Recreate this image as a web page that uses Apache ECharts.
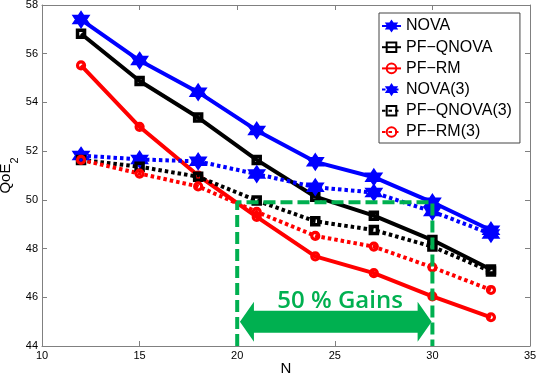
<!DOCTYPE html>
<html><head><meta charset="utf-8">
<script src="https://cdn.jsdelivr.net/npm/echarts@6/dist/echarts.min.js"></script>
<style>html,body{margin:0;padding:0;background:#fff}#c{width:536px;height:375px}</style>
</head><body><div id="c"></div>
<script>
// ---- data ----
const N = [12, 15, 18, 21, 24, 27, 30, 33];
const NOVA      = [57.40, 55.72, 54.42, 52.85, 51.56, 50.93, 49.90, 48.75];
const PF_QNOVA  = [56.82, 54.88, 53.38, 51.64, 50.13, 49.35, 48.35, 47.14];
const PF_RM     = [55.52, 53.00, 51.00, 49.30, 47.68, 46.99, 46.04, 45.18];
const NOVA3     = [51.82, 51.66, 51.58, 51.06, 50.52, 50.30, 49.52, 48.60];
const PF_QNOVA3 = [51.64, 51.36, 50.95, 49.97, 49.12, 48.76, 48.08, 47.06];
const PF_RM3    = [51.64, 51.08, 50.55, 49.51, 48.52, 48.08, 47.23, 46.30];
const seriesNames = ['NOVA', 'PF\u2212QNOVA', 'PF\u2212RM', 'NOVA(3)', 'PF\u2212QNOVA(3)', 'PF\u2212RM(3)'];
const xTicks = [10, 15, 20, 25, 30, 35];
const yTicks = [44, 46, 48, 50, 52, 54, 56, 58];
const gainBox = [[20, 44], [20, 49.9], [30, 49.9], [30, 44]];
const gainArrow = [[20.14, 29.96, 45.0]];
const gainLabel = '50 % Gains';
const gainLabelAt = [25.27, 45.85];

// ---- chart ----
const chart = echarts.init(document.getElementById('c'), null, {renderer: 'canvas'});
const hexagram = 'path://M0,-10 L2.887,-5 L8.66,-5 L5.774,0 L8.66,5 L2.887,5 L0,10 L-2.887,5 L-8.66,5 L-5.774,0 L-8.66,-5 L-2.887,-5 Z';
const BLUE = '#0000FF', BLACK = '#000000', RED = '#FF0000', GREEN = '#00B050';
const dotted = [3.5, 3];
const font = 'Liberation Sans, Arial, sans-serif';

function mk(name, data, color, sym, dashed) {
  const s = {
    name: name, type: 'line', data: N.map((n, i) => [n, data[i]]),
    lineStyle: {color: color, width: 4, type: dashed ? dotted : 'solid', cap: 'butt'},
    itemStyle: {color: color},
    showAllSymbol: true, animation: false, z: 2
  };
  if (sym === 'star') {
    s.symbol = hexagram; s.symbolSize = 16;
    s.itemStyle = {color: color, borderColor: color, borderWidth: 1.5};
  } else if (sym === 'square') {
    s.symbol = 'rect'; s.symbolSize = 7;
    s.itemStyle = {color: 'rgba(255,255,255,0)', borderColor: color, borderWidth: 3.5};
  } else {
    s.symbol = 'circle'; s.symbolSize = 7;
    s.itemStyle = {color: 'rgba(255,255,255,0)', borderColor: color, borderWidth: 3.2};
  }
  return s;
}

const axisGray = '#808080';
function xAx(pos, labels) {
  return {
    type: 'value', min: xTicks[0], max: xTicks[xTicks.length - 1], interval: xTicks[1] - xTicks[0],
    position: pos,
    axisLine: {show: true, onZero: false, lineStyle: {color: axisGray, width: 1}},
    axisTick: {show: true, inside: true, length: 5, lineStyle: {color: axisGray}},
    axisLabel: {show: labels, color: '#000', fontSize: 11, fontFamily: font, margin: 4},
    splitLine: {show: false},
    name: labels ? 'N' : '', nameLocation: 'middle', nameGap: 15, nameMoveOverlap: false,
    nameTextStyle: {fontSize: 15, color: '#000', fontFamily: font}
  };
}
function yAx(pos, labels) {
  return {
    type: 'value', min: yTicks[0], max: yTicks[yTicks.length - 1], interval: yTicks[1] - yTicks[0],
    position: pos,
    axisLine: {show: true, onZero: false, lineStyle: {color: axisGray, width: 1}},
    axisTick: {show: true, inside: true, length: 5, lineStyle: {color: axisGray}},
    axisLabel: {show: labels, color: '#000', fontSize: 11, fontFamily: font, margin: 4},
    splitLine: {show: false},
    name: labels ? '{a|QoE}{b|2}' : '', nameLocation: 'middle', nameGap: 22, nameRotate: 90, nameMoveOverlap: false,
    nameTextStyle: {
      color: '#000', fontFamily: font,
      rich: {
        a: {fontSize: 15, fontFamily: font, color: '#000', verticalAlign: 'top', lineHeight: 22},
        b: {fontSize: 11, fontFamily: font, color: '#000', verticalAlign: 'bottom', lineHeight: 22}
      }
    }
  };
}

const option = {
  animation: false,
  backgroundColor: '#fff',
  grid: {left: 42, right: 6, top: 5, bottom: 29, containLabel: false, outerBoundsMode: 'none'},
  xAxis: [xAx('bottom', true), xAx('top', false)],
  yAxis: [yAx('left', true), yAx('right', false)],
  legend: {
    orient: 'vertical', left: 379, top: 13, padding: [5, 8, 3, 2],
    itemWidth: 19, itemHeight: 12, itemGap: 5.2,
    borderColor: '#444', borderWidth: 1, backgroundColor: '#fff',
    textStyle: {fontFamily: font, fontSize: 16, lineHeight: 16, color: '#000'},
    data: seriesNames
  },
  series: [
    mk(seriesNames[0], NOVA, BLUE, 'star', false),
    mk(seriesNames[1], PF_QNOVA, BLACK, 'square', false),
    mk(seriesNames[2], PF_RM, RED, 'circle', false),
    mk(seriesNames[3], NOVA3, BLUE, 'star', true),
    mk(seriesNames[4], PF_QNOVA3, BLACK, 'square', true),
    mk(seriesNames[5], PF_RM3, RED, 'circle', true),
    {
      name: 'box', type: 'line', data: gainBox, symbol: 'none', silent: true, z: 5,
      lineStyle: {color: GREEN, width: 4, type: [12, 5], cap: 'butt'}, animation: false
    },
    {
      name: 'arrow', type: 'custom', data: gainArrow, z: 6, clip: false, silent: true,
      encode: {x: [0, 1], y: 2},
      renderItem: function (params, api) {
        const l = api.coord([api.value(0), api.value(2)]);
        const r = api.coord([api.value(1), api.value(2)]);
        const y = l[1], bh = 11, hh = 20, hl = 14;
        const pts = [[l[0], y], [l[0] + hl, y - hh], [l[0] + hl, y - bh], [r[0] - hl, y - bh], [r[0] - hl, y - hh],
          [r[0], y], [r[0] - hl, y + hh], [r[0] - hl, y + bh], [l[0] + hl, y + bh], [l[0] + hl, y + hh]];
        const tp = api.coord(gainLabelAt);
        return {
          type: 'group', children: [
            {type: 'polygon', shape: {points: pts}, style: {fill: GREEN}},
            {type: 'text', x: tp[0], y: tp[1], style: {text: gainLabel, fill: GREEN, font: '600 24px "Open Sans", sans-serif', textAlign: 'center', textVerticalAlign: 'middle'}}
          ]
        };
      }
    }
  ]
};
chart.setOption(option);
</script>
</body></html>
